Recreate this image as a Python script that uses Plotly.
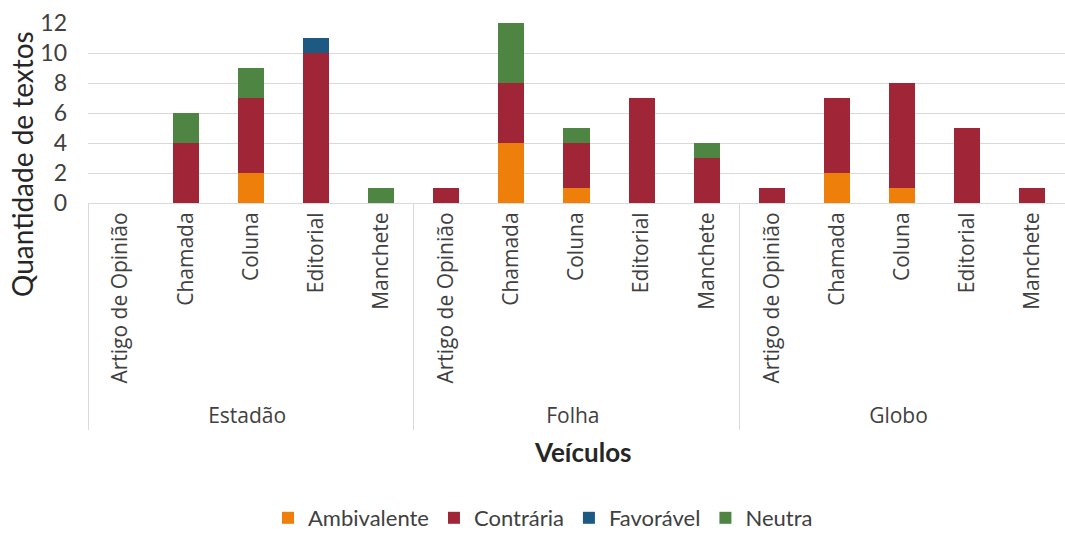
import plotly.graph_objects as go

veiculos = ["Estadão"] * 5 + ["Folha"] * 5 + ["Globo"] * 5
tipos = ["Artigo de Opinião", "Chamada", "Coluna", "Editorial", "Manchete"] * 3

ambivalente = [0, 0, 2, 0, 0, 0, 4, 1, 0, 0, 0, 2, 1, 0, 0]
contraria = [0, 4, 5, 10, 0, 1, 4, 3, 7, 3, 1, 5, 7, 5, 1]
favoravel = [0, 0, 0, 1, 0, 0, 0, 0, 0, 0, 0, 0, 0, 0, 0]
neutra = [0, 2, 2, 0, 1, 0, 4, 1, 0, 1, 0, 0, 0, 0, 0]

series = [
    ("Ambivalente", ambivalente, "#EE7F0B"),
    ("Contrária", contraria, "#A02637"),
    ("Favorável", favoravel, "#1D5A83"),
    ("Neutra", neutra, "#4E8542"),
]

W, H = 1065, 534
L, R, T, B = 88, 0, 23, 331
pw, ph = W - L - R, H - T - B

def px_x(x):
    return (x - L) / pw

def px_y(y):
    return (H - B - y) / ph

FONT = "Lato"
fig = go.Figure()
for name, vals, color in series:
    fig.add_trace(go.Bar(
        x=[veiculos, tipos], y=vals, name=name,
        marker=dict(color=color, line=dict(width=0)),
    ))

fig.update_layout(
    barmode="stack",
    bargap=0.6,
    width=W, height=H,
    margin=dict(l=L, r=R, t=T, b=B, autoexpand=False),
    plot_bgcolor="white", paper_bgcolor="white",
    font=dict(family=FONT, size=17, color="#404040"),
    legend=dict(orientation="h", x=px_x(543), xanchor="center", y=px_y(518), yanchor="middle",
                font=dict(size=22, color="#404040"), traceorder="normal",
                itemwidth=30),
    xaxis=dict(
        automargin=False,
        tickangle=-90, tickfont=dict(family="Open Sans", size=21, color="#404040"),
        showdividers=True, dividercolor="#D9D9D9", dividerwidth=1,
        showline=True, linecolor="#D9D9D9", linewidth=1,
        ticks="",
    ),
    yaxis=dict(
        automargin=False,
        range=[0, 12], dtick=2, showgrid=True, gridcolor="#D9D9D9", gridwidth=1,
        zeroline=False, tickfont=dict(size=23, color="#404040"),
        ticklabelstandoff=20,
    ),
    annotations=[
        dict(text="Quantidade de textos", x=px_x(22), y=px_y(164), xref="paper", yref="paper",
             xanchor="center", yanchor="middle",
             showarrow=False, textangle=-90, font=dict(size=28, color="#262626")),
        dict(text="<b>Veículos</b>", x=px_x(583), y=px_y(452), xref="paper", yref="paper",
             xanchor="center", yanchor="middle", showarrow=False,
             font=dict(size=26, color="#262626")),
    ],
)

fig.write_html("out.html", config={"displayModeBar": False},
               post_script="document.body.style.margin='0';")
